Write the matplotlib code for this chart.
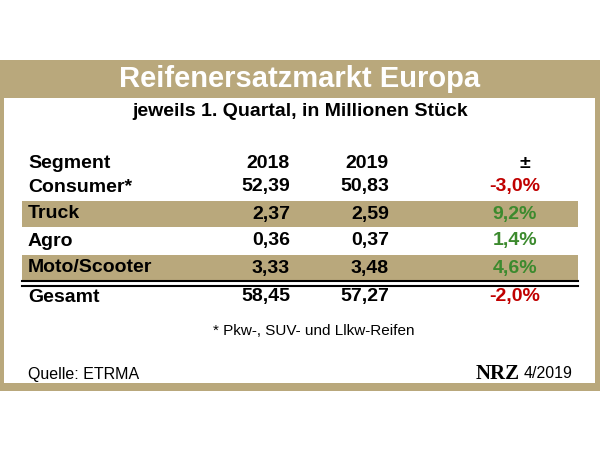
import matplotlib
matplotlib.use("Agg")
import matplotlib.pyplot as plt
from matplotlib.patches import Rectangle

title = "Reifenersatzmarkt Europa"
subtitle = "jeweils 1. Quartal, in Millionen Stück"
header = ["Segment", "2018", "2019", "±"]
segments = ["Consumer*", "Truck", "Agro", "Moto/Scooter"]
v2018 = ["52,39", "2,37", "0,36", "3,33"]
v2019 = ["50,83", "2,59", "0,37", "3,48"]
change = ["-3,0%", "9,2%", "1,4%", "4,6%"]
total = ["Gesamt", "58,45", "57,27", "-2,0%"]
footnote = "* Pkw-, SUV- und Llkw-Reifen"
source = "Quelle: ETRMA"
issue = "4/2019"

KHAKI = "#b9a87c"
RED = "#c00000"
GREEN = "#3c8a2e"
FAM = "Liberation Sans"

fig = plt.figure(figsize=(6, 4.5), dpi=100)
ax = fig.add_axes([0, 0, 1, 1])
ax.set_xlim(0, 600); ax.set_ylim(450, 0); ax.axis("off")

ax.add_patch(Rectangle((0, 60), 600, 331, color=KHAKI, lw=0))
ax.add_patch(Rectangle((4, 98), 591, 285, color="white", lw=0))
ax.text(300, 79, title, color="white", fontsize=21, fontweight="bold",
        ha="center", va="center", family=FAM)
ax.text(300, 111, subtitle, color="black", fontsize=14, fontweight="bold",
        ha="center", va="center", family=FAM)

fs = 14
xs = [28, 290, 389, 515]
def row(y, cells, col3):
    ax.text(xs[0], y, cells[0], ha="left", va="center", fontsize=fs, fontweight="bold", family=FAM)
    ax.text(xs[1], y, cells[1], ha="right", va="center", fontsize=fs, fontweight="bold", family=FAM)
    ax.text(xs[2], y, cells[2], ha="right", va="center", fontsize=fs, fontweight="bold", family=FAM)
    ax.text(xs[3], y, cells[3], ha="center", va="center", fontsize=fs, fontweight="bold",
            color=col3, family=FAM)

ax.text(xs[0], 164, header[0], ha="left", va="center", fontsize=fs, fontweight="bold", family=FAM)
ax.text(xs[1], 164, header[1], ha="right", va="center", fontsize=fs, fontweight="bold", family=FAM)
ax.text(xs[2], 164, header[2], ha="right", va="center", fontsize=fs, fontweight="bold", family=FAM)
ax.text(xs[3] + 10, 164, header[3], ha="center", va="center", fontsize=fs, fontweight="bold", family=FAM)

ys = [187, 214, 241, 268]
for i, y in enumerate(ys):
    if i % 2 == 1:
        ax.add_patch(Rectangle((22, y - 13), 556, 26, color=KHAKI, lw=0))
    col = RED if change[i].startswith("-") else GREEN
    row(y, [segments[i], v2018[i], v2019[i], change[i]], col)

ax.plot([22, 578], [281, 281], color="black", lw=1.5)
ax.plot([22, 578], [285.5, 285.5], color="black", lw=1.5)
row(297, total, RED)

ax.text(314, 331, footnote, ha="center", va="center", fontsize=11, family=FAM)
ax.text(28, 374, source, ha="left", va="center", fontsize=11.5, family=FAM)
ax.text(520, 374, "NRZ", ha="right", va="center", fontsize=15, fontweight="bold",
        family="Liberation Serif")
ax.text(573, 374, issue, ha="right", va="center", fontsize=11.5, family=FAM)

fig.savefig("out.png", dpi=100)
